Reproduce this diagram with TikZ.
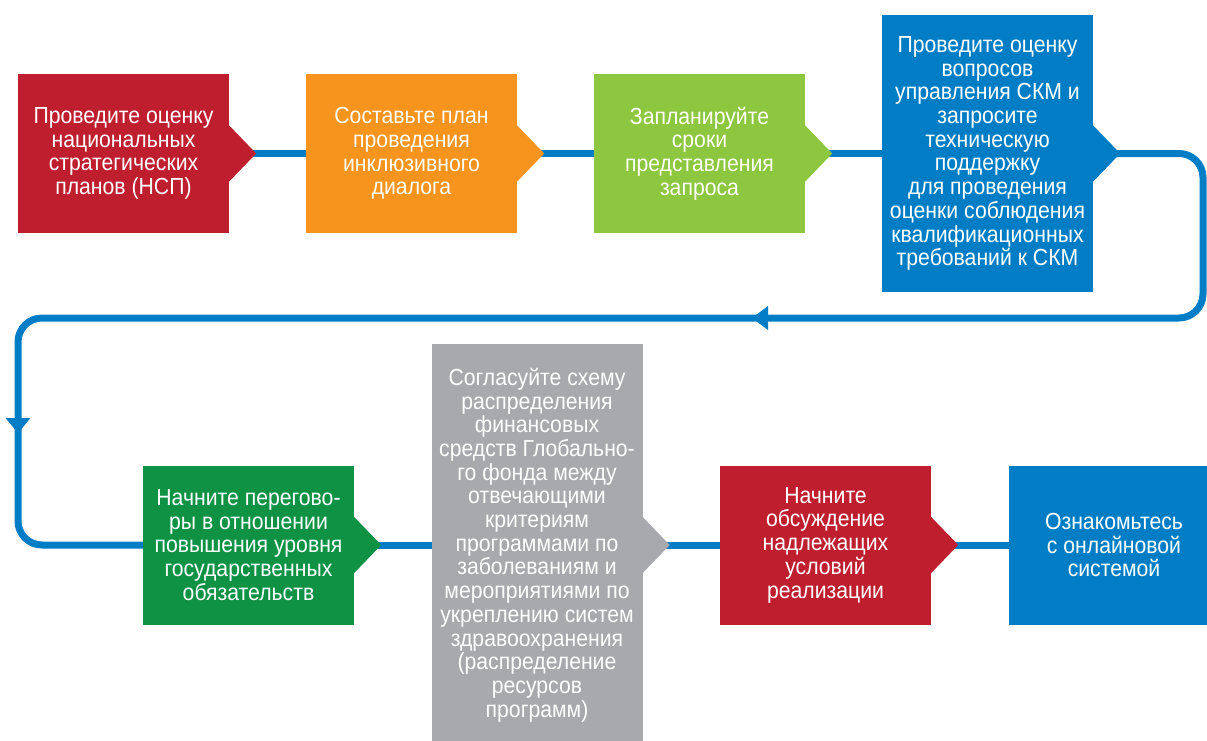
\documentclass[tikz,border=0pt]{standalone}
\usepackage{fontspec}
\setmainfont[FakeStretch=0.91]{Liberation Sans}
\usetikzlibrary{calc,backgrounds}

\definecolor{stred}{RGB}{190,30,45}
\definecolor{storange}{RGB}{247,148,29}
\definecolor{stlime}{RGB}{141,198,63}
\definecolor{stblue}{RGB}{0,125,197}
\definecolor{stgreen}{RGB}{16,146,69}
\definecolor{stgray}{RGB}{167,169,172}
\definecolor{flowblue}{RGB}{0,125,197}

% pointer on the right side of a stage box
\newcommand{\boxtip}[2]{\fill[#2] ($(#1.east)+(0,28)$) -- ++(27,-28) -- ++(-27,-28) -- cycle;}

\begin{document}
\begin{tikzpicture}[x=1pt,y=-1pt,
  stage/.style={rectangle,minimum width=211pt,minimum height=159pt,inner sep=0pt,
    text=white,align=center,font=\fontsize{23.3}{23.7}\selectfont},
  flow/.style={draw=flowblue,line width=7pt}]

  \useasboundingbox (0,0) rectangle (1207,741);

  % top row
  \node[stage,fill=stred] (n1) at (123.5,153.5) {Проведите оценку\\национальных\\стратегических\\планов (НСП)};
  \node[stage,fill=storange] (n2) at (411.5,153.5) {Составьте план\\проведения\\инклюзивного\\диалога};
  \node[stage,fill=stlime] (n3) at (699.5,153.5) {Запланируйте\\сроки\\представления\\запроса};
  \node[stage,fill=stblue,minimum height=277pt] (n4) at (987.5,153.5) {Проведите оценку\\вопросов\\управления СКМ и\\запросите\\техническую\\поддержку\\для проведения\\оценки соблюдения\\квалификационных\\требований к СКМ};

  % bottom row
  \node[stage,fill=stgreen] (n5) at (248.5,545) {Начните перегово-\\ры в отношении\\повышения уровня\\государственных\\обязательств};
  \node[stage,fill=stgray,minimum height=402pt] (n6) at (537,545) {Согласуйте схему\\распределения\\финансовых\\средств Глобально-\\го фонда между\\отвечающими\\критериям\\программами по\\заболеваниям и\\мероприятиями по\\укреплению систем\\здравоохранения\\(распределение\\ресурсов\\программ)};
  \node[stage,fill=stred] (n7) at (825.5,545) {Начните\\обсуждение\\надлежащих\\условий\\реализации};
  \node[stage,fill=stblue] (n8) at (1114,545) {Ознакомьтесь\\с онлайновой\\системой};

  \boxtip{n1}{stred}
  \boxtip{n2}{storange}
  \boxtip{n3}{stlime}
  \boxtip{n4}{stblue}
  \boxtip{n5}{stgreen}
  \boxtip{n6}{stgray}
  \boxtip{n7}{stred}

  \coordinate (rtop) at (1203,153.5);
  \coordinate (rbot) at (1203,318);
  \coordinate (ltop) at (18,318);
  \coordinate (lbot) at (18,545);
  \coordinate (a1) at (752,318);
  \coordinate (a2) at (18,433);

  \begin{scope}[on background layer]
    \draw[flow] (n1.center) -- (n4.center);
    \draw[flow,rounded corners=24pt] (n4.center) -- (rtop) -- (rbot) -- (ltop) -- (lbot) -- (n5.center);
    \draw[flow] (n5.center) -- (n8.center);
  \end{scope}

  \fill[flowblue] (a1) -- ++(16,-12) -- ++(0,24) -- cycle;
  \fill[flowblue] (a2) -- ++(-12.5,-15) -- ++(25,0) -- cycle;
\end{tikzpicture}
\end{document}
